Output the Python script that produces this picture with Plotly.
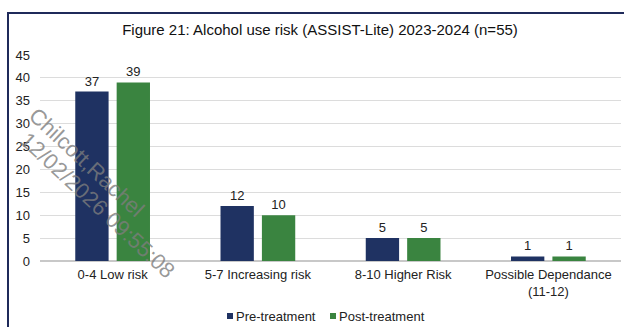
import plotly.graph_objects as go

categories = ["0-4 Low risk", "5-7 Increasing risk", "8-10 Higher Risk", "Possible Dependance<br>(11-12)"]
pre_treatment = [37, 12, 5, 1]
post_treatment = [39, 10, 5, 1]
series_names = ["Pre-treatment", "Post-treatment"]
series_colors = ["#1f3262", "#3a8440"]

W, H = 624, 327
L, R, T, B = 40, 3, 55, 66
pw, ph = W - L - R, H - T - B


def px(x):
    return (x - L) / pw


def py(y):
    return (H - B - y) / ph


font = "Liberation Sans, Arial, sans-serif"

fig = go.Figure()
for name, vals, color in zip(series_names, [pre_treatment, post_treatment], series_colors):
    fig.add_trace(go.Bar(
        name=name, x=categories, y=vals,
        marker=dict(color=color, line=dict(width=0)),
        text=vals, textposition="outside", cliponaxis=False,
        textfont=dict(size=13, color="#222222"),
    ))

fig.update_layout(
    width=W, height=H,
    margin=dict(l=L, r=R, t=T, b=B, autoexpand=False),
    paper_bgcolor="white", plot_bgcolor="white",
    font=dict(family=font, size=13, color="#222222"),
    barmode="group", bargap=0.43, bargroupgap=0.195,
    title=dict(text="Figure 21: Alcohol use risk (ASSIST-Lite) 2023-2024 (n=55)",
               x=320 / W, xanchor="center", y=1 - 30 / H, yanchor="middle",
               font=dict(size=15, color="#111111")),
    xaxis=dict(showgrid=False, showline=False, ticks="", tickfont=dict(size=13),
               ticklabelstandoff=4, automargin=False),
    yaxis=dict(range=[0, 45], dtick=5, showgrid=True, gridcolor="#dcdcdc",
               gridwidth=1, zeroline=True, zerolinecolor="#c8c8c8",
               showline=False, ticks="", tickfont=dict(size=13),
               ticklabelstandoff=9, automargin=False),
    showlegend=False,
)

# Legend: small colour squares followed by the series names
legend_items = [(227, 234, series_names[0], series_colors[0]),
                (330, 337, series_names[1], series_colors[1])]
for sx, tx, name, color in legend_items:
    fig.add_shape(type="rect", xref="paper", yref="paper",
                  x0=px(sx), x1=px(sx + 6), y0=py(319), y1=py(313),
                  fillcolor=color, line=dict(width=0))
    fig.add_annotation(text=name, xref="paper", yref="paper",
                       x=px(tx), y=py(316), xanchor="left", yanchor="middle",
                       showarrow=False, font=dict(size=13, color="#222222"))

# Frame lines (left and top)
border = "#1f2a5a"
fig.add_shape(type="line", xref="paper", yref="paper",
              x0=px(8), x1=px(8), y0=py(13), y1=py(330),
              line=dict(color=border, width=2))
fig.add_shape(type="line", xref="paper", yref="paper",
              x0=px(7), x1=px(626), y0=py(13), y1=py(13),
              line=dict(color=border, width=2))

# Watermark, one rotated line at a time
wm_color = "rgba(125,125,125,0.8)"
for line_text, cx, cy in [("Chilcott,Rachel", 87, 162), ("12/02/2026 09:55:08", 98, 205)]:
    fig.add_annotation(
        text=line_text, xref="paper", yref="paper", x=px(cx), y=py(cy),
        xanchor="center", yanchor="middle", showarrow=False, textangle=43,
        font=dict(family=font, size=22, color=wm_color),
    )

fig.write_html("out.html")
